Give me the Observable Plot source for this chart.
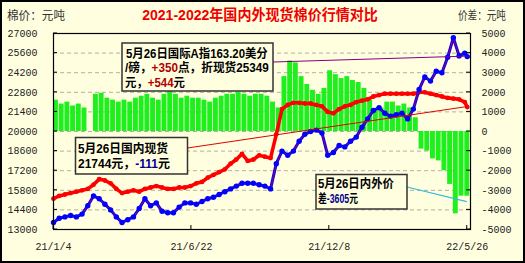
<!DOCTYPE html>
<html><head><meta charset="utf-8">
<script src="https://cdn.jsdelivr.net/npm/d3@7"></script>
<script src="https://cdn.jsdelivr.net/npm/@observablehq/plot@0.6"></script>
<style>
html,body{margin:0;padding:0;background:#fff;}
#chart{width:525px;height:263px;}
</style></head><body><div id="chart"></div>
<script>
// ---- data (weekly readings, Monday of each week) ----
const weekDates = [
"2021-01-04","2021-01-11","2021-01-18","2021-01-25","2021-02-01","2021-02-08","2021-02-15","2021-02-22","2021-03-01","2021-03-08",
"2021-03-15","2021-03-22","2021-03-29","2021-04-05","2021-04-12","2021-04-19","2021-04-26","2021-05-03","2021-05-10","2021-05-17",
"2021-05-24","2021-05-31","2021-06-07","2021-06-14","2021-06-21","2021-06-28","2021-07-05","2021-07-12","2021-07-19","2021-07-26",
"2021-08-02","2021-08-09","2021-08-16","2021-08-23","2021-08-30","2021-09-06","2021-09-13","2021-09-20","2021-09-27","2021-10-04",
"2021-10-11","2021-10-18","2021-10-25","2021-11-01","2021-11-08","2021-11-15","2021-11-22","2021-11-29","2021-12-06","2021-12-13",
"2021-12-20","2021-12-27","2022-01-03","2022-01-10","2022-01-17","2022-01-24","2022-01-31","2022-02-07","2022-02-14","2022-02-21",
"2022-02-28","2022-03-07","2022-03-14","2022-03-21","2022-03-28","2022-04-04","2022-04-11","2022-04-18","2022-04-25","2022-05-02",
"2022-05-09","2022-05-16","2022-05-23"];
const domestic = [
15200,15400,15500,15600,15700,15800,15900,16200,16600,16500,
16300,15900,15600,15700,15800,15700,15900,16000,16100,16000,
15900,15900,16000,16000,16100,16300,16400,16700,16900,17100,
17300,17700,18000,18400,17900,18000,18300,18200,18100,19800,
21600,21900,22050,22050,22000,22000,21900,21800,21400,21300,
21600,21800,21900,22100,22200,22300,22500,22600,22700,22700,
22700,22700,22700,22700,22800,22800,22700,22600,22500,22400,
22350,22300,22100];
const international = [
13500,13800,13900,14000,13900,14100,14700,15400,15200,14800,
14400,13900,13500,13700,13900,14500,15200,14700,14900,14300,
14200,14200,14600,14900,14900,14800,15000,15200,15300,15500,
15700,15900,16100,16300,16300,16300,16200,16100,15900,17700,
18600,18300,18600,19300,19800,20000,20100,19900,18300,18500,
19000,18900,19300,19600,20300,20900,21500,21700,21300,21100,
21200,21300,20900,21600,23000,23900,23600,24300,24200,25300,
26700,25400,25600];
const spread = [
1600,1400,1500,1300,1400,1200,null,1900,1950,1700,
1600,1500,1600,1500,1700,1800,1900,1700,1600,1900,
2100,1900,1700,1800,1700,1700,1600,1500,1700,1800,
1900,1900,2000,1900,1800,1900,1900,1800,1500,1200,
2800,3600,3500,2800,2400,2100,1900,2200,3100,2900,
2700,2800,2600,2500,2200,1600,1100,1200,1500,1500,
1300,1400,1200,700,-900,-1000,-1400,-1500,-2000,-2700,
-4200,-3300,-3300];
const lastDate = "2022-05-26";
const lastDomestic = 21744;
const lastInternational = 25349;
const lastSpread = -3605;
const leftTicks = [13000,14400,15800,17200,18600,20000,21400,22800,24200,25600,27000];
const rightTicks = [-5000,-4000,-3000,-2000,-1000,0,1000,2000,3000,4000,5000];
const xTickDates = ["2021-01-04","2021-06-22","2021-12-08","2022-05-26"];
const xTickLabels = ["21/1/4","21/6/22","21/12/8","22/5/26"];

// ---- build tables ----
const bg = "#FFFFE0";
const spreadToY = v => 20000 + v * 1.4;
const yToSpread = v => Math.round((v - 20000) / 1.4);
const domRows = weekDates.map((d,i)=>({date:new Date(d), v:domestic[i]})).concat([{date:new Date(lastDate), v:lastDomestic}]);
const intRows = weekDates.map((d,i)=>({date:new Date(d), v:international[i]})).concat([{date:new Date(lastDate), v:lastInternational}]);
const barRows = weekDates.map((d,i)=>({date:new Date(d), end:d3.utcHour.offset(new Date(d),144), y1:20000, y2:spread[i]==null?null:spreadToY(spread[i])})).filter(r=>r.y2!=null);
const xTicks = xTickDates.map(d=>new Date(d));

const chart = Plot.plot({
  width:525, height:263,
  marginLeft:53, marginRight:55, marginTop:33, marginBottom:34,
  style:{background:bg, fontFamily:"'Liberation Mono','Noto Sans CJK SC',monospace", fontSize:"10px", color:"#222"},
  x:{type:"utc", domain:[new Date("2021-01-04"), new Date("2022-05-30")]},
  y:{domain:[13000,27000]},
  marks:[
    Plot.ruleY(leftTicks.slice(1,-1), {stroke:"#b0b0a0", strokeDasharray:"4,3", strokeWidth:1}),
    Plot.rect(barRows, {x1:"date", x2:"end", y1:"y1", y2:"y2", fill:"#1ef01e"}),
    Plot.line(domRows, {x:"date", y:"v", stroke:"#ff0000", strokeWidth:3.6}),
    Plot.dot(domRows, {x:"date", y:"v", r:2.4, fill:"#ff0000"}),
    Plot.line(intRows, {x:"date", y:"v", stroke:"#0000ff", strokeWidth:3}),
    Plot.line(intRows, {x:"date", y:"v", stroke:"#800080", strokeWidth:1.3}),
    Plot.dot(intRows, {x:"date", y:"v", r:2.7, fill:"#0000ff"}),
    Plot.axisY({anchor:"left", ticks:leftTicks, tickSize:0, tickPadding:16, label:null, tickFormat:d=>String(d)}),
    Plot.axisY({anchor:"right", ticks:rightTicks.map(spreadToY), tickSize:0, tickPadding:11, label:null, tickFormat:v=>String(yToSpread(v))}),
    Plot.axisX({ticks:xTicks, tickSize:0, tickPadding:13, label:null, tickFormat:(d)=>xTickLabels[xTicks.findIndex(t=>+t===+d)]}),
    Plot.frame({stroke:"#000", strokeWidth:1.2})
  ]
});
document.getElementById("chart").appendChild(chart);

// ---- overlay: ticks, title, annotations ----
const sx = chart.scale("x"), sy = chart.scale("y");
const svg = d3.select(chart);
const g = svg.append("g").attr("text-anchor","start");
const X0 = sx.range[0], X1 = sx.range[1], Y0 = sy.range[0];
leftTicks.forEach(t=>{ g.append("line").attr("x1",X0).attr("x2",X0+4).attr("y1",sy.apply(t)).attr("y2",sy.apply(t)).attr("stroke","#000"); });
rightTicks.forEach(t=>{ const y=sy.apply(spreadToY(t)); g.append("line").attr("x1",X1-4).attr("x2",X1).attr("y1",y).attr("y2",y).attr("stroke","#000"); });
xTicks.forEach(t=>{ const x=sx.apply(t); g.append("line").attr("x1",x).attr("x2",x).attr("y1",Y0).attr("y2",Y0-4).attr("stroke","#000"); });

const cjk = "'Liberation Sans','Noto Sans CJK SC',sans-serif";
function txt(x,y,parts,opts){
  const t = g.append("text").attr("x",0).attr("y",0)
    .attr("font-family",opts.family||cjk).attr("font-size",opts.size||12)
    .attr("font-weight",opts.weight||"bold").attr("fill",opts.fill||"#000")
    .attr("text-anchor",opts.anchor||"start");
  parts.forEach(p=>{ const s=t.append("tspan").text(p[0]); if(p[1]) s.attr("fill",p[1]); });
  let k = 1;
  if(opts.len){ const w = t.node().getComputedTextLength(); if(w>0) k = opts.len / w; }
  t.attr("transform",`translate(${x},${y}) scale(${k},1)`);
  return t;
}
txt(260,20,[["2021-2022年国内外现货棉价行情对比"]],{size:14.5,fill:"#ee0000",anchor:"middle",len:236});
txt(7,20,[["棉价：元吨"]],{size:12,weight:"normal",fill:"#333",len:58});
txt(458,20,[["价差：元吨"]],{size:12,weight:"normal",fill:"#333",len:48});

// connectors
const ex = sx.apply(new Date(lastDate));
g.append("line").attr("x1",273).attr("y1",62).attr("x2",ex).attr("y2",sy.apply(lastInternational)).attr("stroke","#800080").attr("stroke-width",1);
g.append("line").attr("x1",187.5).attr("y1",148).attr("x2",ex).attr("y2",sy.apply(lastDomestic)).attr("stroke","#e00000").attr("stroke-width",1);
g.append("line").attr("x1",407).attr("y1",187).attr("x2",ex).attr("y2",sy.apply(spreadToY(lastSpread))).attr("stroke","#33bbdd").attr("stroke-width",1.2);

function box(x,y,w,h){ g.append("rect").attr("x",x).attr("y",y).attr("width",w).attr("height",h).attr("fill",bg).attr("stroke","#333").attr("stroke-width",1.5); }
box(122,43,151,48);
txt(126,57.5,[["5月26日国际A指163.20美分"]],{len:142});
txt(125,72,[["/磅，"],["+350","#b00000"],["点，折现货25349"]],{len:144});
txt(125,86.5,[["元，"],["+544","#b00000"],["元"]],{len:60});
box(75.5,137.5,112,36.5);
txt(78,153,[["5月26日国内现货"]],{len:90});
txt(78,167.5,[["21744元，"],["-111","#000090"],["元"]],{len:92});
box(316,174.5,91,34.5);
txt(318,187.5,[["5月26日内外价"]],{len:76});
txt(318,203,[["差"],["-3605","#000090"],["元"]],{len:40});

// outer border
svg.append("rect").attr("x",1).attr("y",1).attr("width",523).attr("height",261).attr("fill","none").attr("stroke","#000").attr("stroke-width",2);
</script></body></html>
